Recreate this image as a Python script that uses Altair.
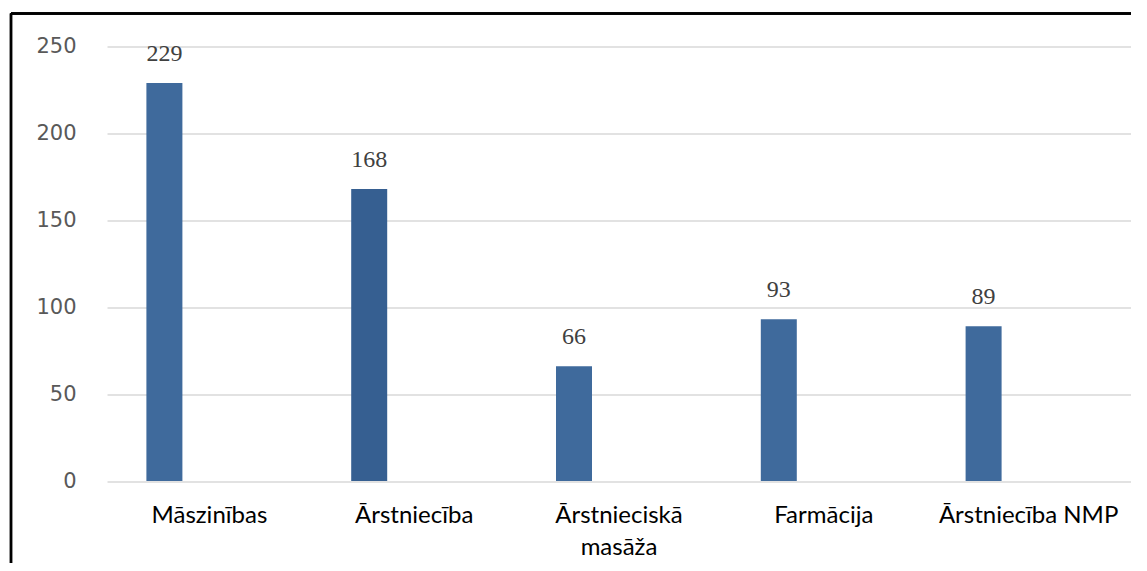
import altair as alt
import pandas as pd

categories = ["Māszinības", "Ārstniecība", "Ārstnieciskā\nmasāža", "Farmācija", "Ārstniecība NMP"]
values = [229, 168, 66, 93, 89]
y_ticks = [0, 50, 100, 150, 200, 250]

df = pd.DataFrame({"cat": categories, "val": values})

W, H = 1024, 434.5
bar_colors = ["#3f6a9c", "#365f91", "#3f6a9c", "#3f6a9c", "#3f6a9c"]

x_enc = alt.X("cat:N", sort=categories, title=None,
              scale=alt.Scale(paddingInner=0, paddingOuter=0),
              axis=alt.Axis(labelAngle=0, labelFont="Lato", labelFontSize=24,
                            labelColor="#000000", labelPadding=22, ticks=False,
                            domain=False, labelExpr="split(datum.label, '\\n')",
                            labelLineHeight=32))
y_enc = alt.Y("val:Q", title=None,
              scale=alt.Scale(domain=[0, 250], nice=False),
              axis=alt.Axis(values=y_ticks, labelFont="DejaVu Sans", labelFontSize=21,
                            labelColor="#595959", labelPadding=31, ticks=False,
                            domain=False, grid=True, gridColor="#d9d9d9",
                            gridWidth=1.5))

bars = alt.Chart(df).mark_bar(width=36, xOffset=-45).encode(
    x=x_enc, y=y_enc,
    color=alt.Color("cat:N", scale=alt.Scale(domain=categories, range=bar_colors), legend=None))
labels = alt.Chart(df).mark_text(dx=-45, dy=-17, baseline="bottom", font="Liberation Serif",
                                 fontSize=24, color="#404040").encode(
    x=alt.X("cat:N", sort=categories), y="val:Q", text="val:Q")

frame_left = alt.Chart(df).mark_rule(color="#000000", strokeWidth=2.2).encode(
    x=alt.value(-96), y=alt.value(-33), y2=alt.value(700))
frame_top = alt.Chart(df).mark_rule(color="#000000", strokeWidth=2.2).encode(
    x=alt.value(-96), x2=alt.value(1100), y=alt.value(-33))

chart = alt.layer(bars, labels, frame_left, frame_top).properties(
    width=W, height=H,
    autosize=alt.AutoSizeParams(type="none"),
    padding={"left": 99, "top": 38.5, "right": 0, "bottom": 82},
).configure_view(stroke=None)

chart.save("out.html", embed_options={"renderer": "svg", "actions": False})
